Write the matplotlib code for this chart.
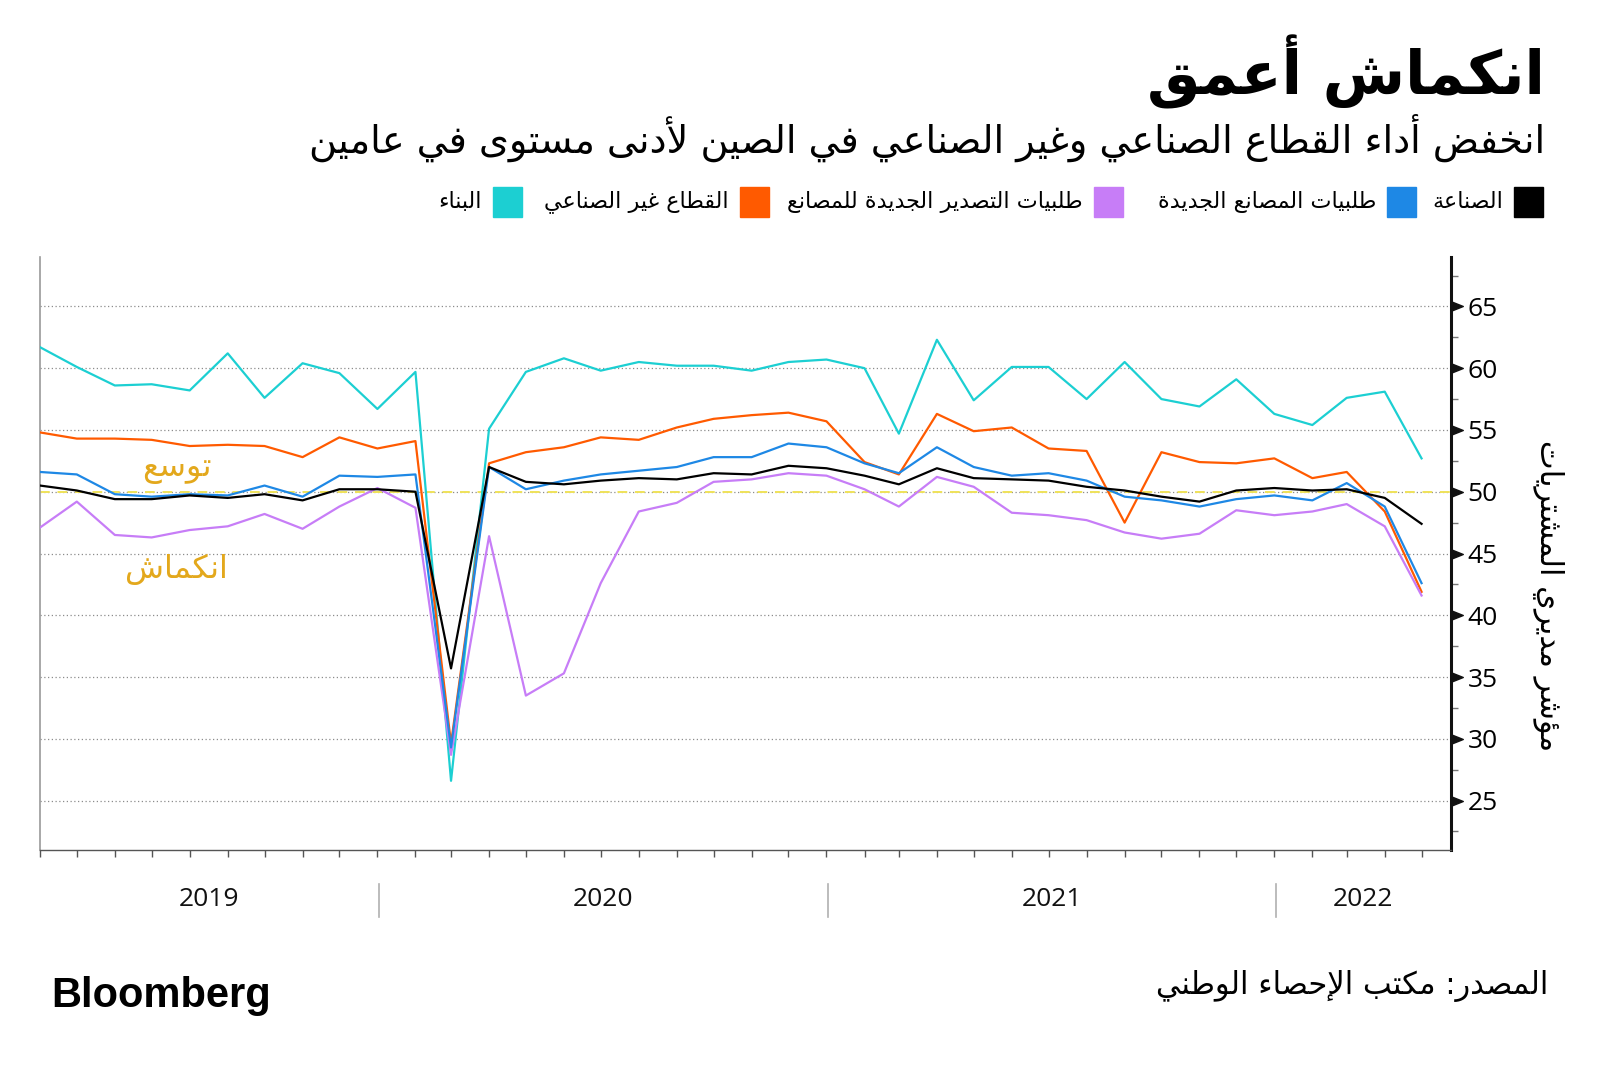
import numpy as np
import pandas as pd
import matplotlib
matplotlib.use('Agg')
from matplotlib import pyplot as plt
import matplotlib.dates as mdates
from matplotlib.patches import Rectangle
from matplotlib.path import Path
from matplotlib.transforms import blended_transform_factory

# NBS PMI readings, month-end, Mar 2019 .. Apr 2022
months = pd.date_range('2019-03-01', periods=38, freq='MS') + pd.offsets.MonthEnd(0)

manufacturing = [50.5, 50.1, 49.4, 49.4, 49.7, 49.5, 49.8, 49.3, 50.2, 50.2,
                 50.0, 35.7, 52.0, 50.8, 50.6, 50.9, 51.1, 51.0, 51.5, 51.4, 52.1, 51.9,
                 51.3, 50.6, 51.9, 51.1, 51.0, 50.9, 50.4, 50.1, 49.6, 49.2, 50.1, 50.3,
                 50.1, 50.2, 49.5, 47.4]
new_orders = [51.6, 51.4, 49.8, 49.6, 49.8, 49.7, 50.5, 49.6, 51.3, 51.2,
              51.4, 29.3, 52.0, 50.2, 50.9, 51.4, 51.7, 52.0, 52.8, 52.8, 53.9, 53.6,
              52.3, 51.5, 53.6, 52.0, 51.3, 51.5, 50.9, 49.6, 49.3, 48.8, 49.4, 49.7,
              49.3, 50.7, 48.8, 42.6]
export_orders = [47.1, 49.2, 46.5, 46.3, 46.9, 47.2, 48.2, 47.0, 48.8, 50.3,
                 48.7, 28.7, 46.4, 33.5, 35.3, 42.6, 48.4, 49.1, 50.8, 51.0, 51.5, 51.3,
                 50.2, 48.8, 51.2, 50.4, 48.3, 48.1, 47.7, 46.7, 46.2, 46.6, 48.5, 48.1,
                 48.4, 49.0, 47.2, 41.6]
non_manufacturing = [54.8, 54.3, 54.3, 54.2, 53.7, 53.8, 53.7, 52.8, 54.4, 53.5,
                     54.1, 29.6, 52.3, 53.2, 53.6, 54.4, 54.2, 55.2, 55.9, 56.2, 56.4, 55.7,
                     52.4, 51.4, 56.3, 54.9, 55.2, 53.5, 53.3, 47.5, 53.2, 52.4, 52.3, 52.7,
                     51.1, 51.6, 48.4, 41.9]
construction = [61.7, 60.1, 58.6, 58.7, 58.2, 61.2, 57.6, 60.4, 59.6, 56.7,
                59.7, 26.6, 55.1, 59.7, 60.8, 59.8, 60.5, 60.2, 60.2, 59.8, 60.5, 60.7,
                60.0, 54.7, 62.3, 57.4, 60.1, 60.1, 57.5, 60.5, 57.5, 56.9, 59.1, 56.3,
                55.4, 57.6, 58.1, 52.7]

series_labels = ['الصناعة', 'طلبيات المصانع الجديدة', 'طلبيات التصدير الجديدة للمصانع',
                 'القطاع غير الصناعي', 'البناء']
series_values = [manufacturing, new_orders, export_orders, non_manufacturing, construction]
colors = ['#000000', '#1e88e5', '#c77df7', '#ff5a00', '#1ccfd2']
years = [2019, 2020, 2021, 2022]
yticks = [25, 30, 35, 40, 45, 50, 55, 60, 65]

# --- minimal arabic shaping (matplotlib has no bidi / joining) ---
DUAL = {'ئ': 0xFE89, 'ب': 0xFE8F, 'ت': 0xFE95, 'ث': 0xFE99, 'ج': 0xFE9D, 'ح': 0xFEA1,
        'خ': 0xFEA5, 'س': 0xFEB1, 'ش': 0xFEB5, 'ص': 0xFEB9, 'ض': 0xFEBD, 'ط': 0xFEC1,
        'ظ': 0xFEC5, 'ع': 0xFEC9, 'غ': 0xFECD, 'ف': 0xFED1, 'ق': 0xFED5, 'ك': 0xFED9,
        'ل': 0xFEDD, 'م': 0xFEE1, 'ن': 0xFEE5, 'ه': 0xFEE9, 'ي': 0xFEF1}
RIGHT = {'آ': 0xFE81, 'أ': 0xFE83, 'ؤ': 0xFE85, 'إ': 0xFE87, 'ا': 0xFE8D, 'ة': 0xFE93,
         'د': 0xFEA9, 'ذ': 0xFEAB, 'ر': 0xFEAD, 'ز': 0xFEAF, 'و': 0xFEED, 'ى': 0xFEEF}
LAM_ALEF = {'آ': 0xFEF5, 'أ': 0xFEF7, 'إ': 0xFEF9, 'ا': 0xFEFB}


def ar(s):
    chars = []
    i = 0
    while i < len(s):
        if s[i] == 'ل' and i + 1 < len(s) and s[i + 1] in LAM_ALEF:
            chars.append(('LA', s[i + 1]))
            i += 2
        else:
            chars.append(s[i])
            i += 1

    def fwd(c):
        return isinstance(c, str) and c in DUAL

    def back(c):
        return isinstance(c, tuple) or c in DUAL or c in RIGHT

    out = []
    for k, c in enumerate(chars):
        p = k > 0 and fwd(chars[k - 1])
        n = k + 1 < len(chars) and back(chars[k + 1])
        if isinstance(c, tuple):
            out.append(chr(LAM_ALEF[c[1]] + (1 if p else 0)))
        elif c in DUAL:
            out.append(chr(DUAL[c] + (3 if p and n else 1 if p else 2 if n else 0)))
        elif c in RIGHT:
            out.append(chr(RIGHT[c] + (1 if p else 0)))
        elif c == 'ء':
            out.append(chr(0xFE80))
        else:
            out.append(c)
    return ''.join(reversed(out))


plt.rcParams['font.family'] = ['DejaVu Sans']

W, H = 1600, 1072
fig = plt.figure(figsize=(W / 100, H / 100), dpi=100)


def fx(px):
    return px / W


def fy(py):
    return 1 - py / H


ax = fig.add_axes([fx(40), fy(850), fx(1451 - 40), (850 - 257) / H])

for vals, c in reversed(list(zip(series_values, colors))):
    ax.plot(months, vals, color=c, lw=1.6, zorder=3)

ax.axhline(50, color='#efe25a', lw=1.4, ls=(0, (5, 4)), zorder=2)
for t in yticks:
    ax.axhline(t, color='#8c8c8c', lw=0.9, ls=(0, (1, 2)), zorder=1)

ax.set_xlim(months[0], pd.Timestamp('2022-05-24'))
ax.set_ylim(21, 69)

# axes styling
ax.spines['top'].set_visible(False)
ax.spines['left'].set_color('#9a9a9a')
ax.spines['left'].set_linewidth(1.2)
ax.spines['bottom'].set_color('#555555')
ax.spines['bottom'].set_linewidth(1.0)
ax.spines['right'].set_color('#111111')
ax.spines['right'].set_linewidth(2.2)

ax.yaxis.tick_right()
ax.set_yticks(yticks)
ax.set_yticklabels([str(t) for t in yticks], fontsize=19, family='Open Sans')
ax.tick_params(axis='y', which='major', length=0, pad=12)
ax.set_yticks(np.arange(22.5, 69, 5), minor=True)
ax.tick_params(axis='y', which='minor', direction='out', length=5, width=1, color='#777777')

ax.set_xticks(months)
ax.set_xticklabels([])
ax.tick_params(axis='x', which='major', direction='out', length=5, width=1, color='#555555')

# triangle tick marks on right spine
tri = Path([(0, -0.6), (0, 0.6), (1.5, 0), (0, -0.6)],
           [Path.MOVETO, Path.LINETO, Path.LINETO, Path.CLOSEPOLY])
tr = blended_transform_factory(ax.transAxes, ax.transData)
ax.plot([1.0] * len(yticks), yticks, ls='none', marker=tri, markersize=17,
        color='#111111', transform=tr, clip_on=False, zorder=5)

# year labels + separators
trx = blended_transform_factory(ax.transData, ax.transAxes)
x0, x1 = ax.get_xlim()
for y in years:
    a = max(x0, mdates.date2num(pd.Timestamp(f'{y}-01-01')))
    b = min(x1, mdates.date2num(pd.Timestamp(f'{y + 1}-01-01')))
    ax.text((a + b) / 2, -0.084, str(y), transform=trx, ha='center', va='center',
            fontsize=19, family='Open Sans', color='#111111')
    if y > years[0]:
        ax.plot([a, a], [-0.057, -0.113], transform=trx, color='#b0b0b0', lw=1.2,
                clip_on=False)

fig.text(fx(1548), fy(596), ar('مؤشر مديري المشتريات'), rotation=270,
         ha='center', va='center', fontsize=22)

# zone annotations
ax.text(0.097, 0.644, ar('توسع'), transform=ax.transAxes, ha='center', va='center',
        fontsize=23, color='#e3a81c')
ax.text(0.097, 0.474, ar('انكماش'), transform=ax.transAxes, ha='center', va='center',
        fontsize=23, color='#e3a81c')

# title / subtitle
fig.text(fx(1545), fy(72), ar('انكماش أعمق'), ha='right', va='center',
         fontsize=43, fontweight='bold', color='#000000')
fig.text(fx(1545), fy(138), ar('انخفض أداء القطاع الصناعي وغير الصناعي في الصين لأدنى مستوى في عامين'),
         ha='right', va='center', fontsize=27.5, color='#000000')

# legend
sq_left = [1514, 1387, 1094, 740, 493]
sq = 29
for lab, c, l in zip(series_labels, colors, sq_left):
    fig.patches.append(Rectangle((fx(l), fy(202 + sq / 2)), fx(sq), sq / H,
                                 transform=fig.transFigure, color=c))
    fig.text(fx(l - 11), fy(202), ar(lab), ha='right', va='center', fontsize=16)

# footer
fig.text(fx(51), fy(996), 'Bloomberg', ha='left', va='center', fontsize=30,
         fontweight='heavy', family='Liberation Sans')
fig.text(fx(1548), fy(986), ar('المصدر: مكتب الإحصاء الوطني'), ha='right', va='center',
         fontsize=22)

fig.savefig('out.png', dpi=100)
